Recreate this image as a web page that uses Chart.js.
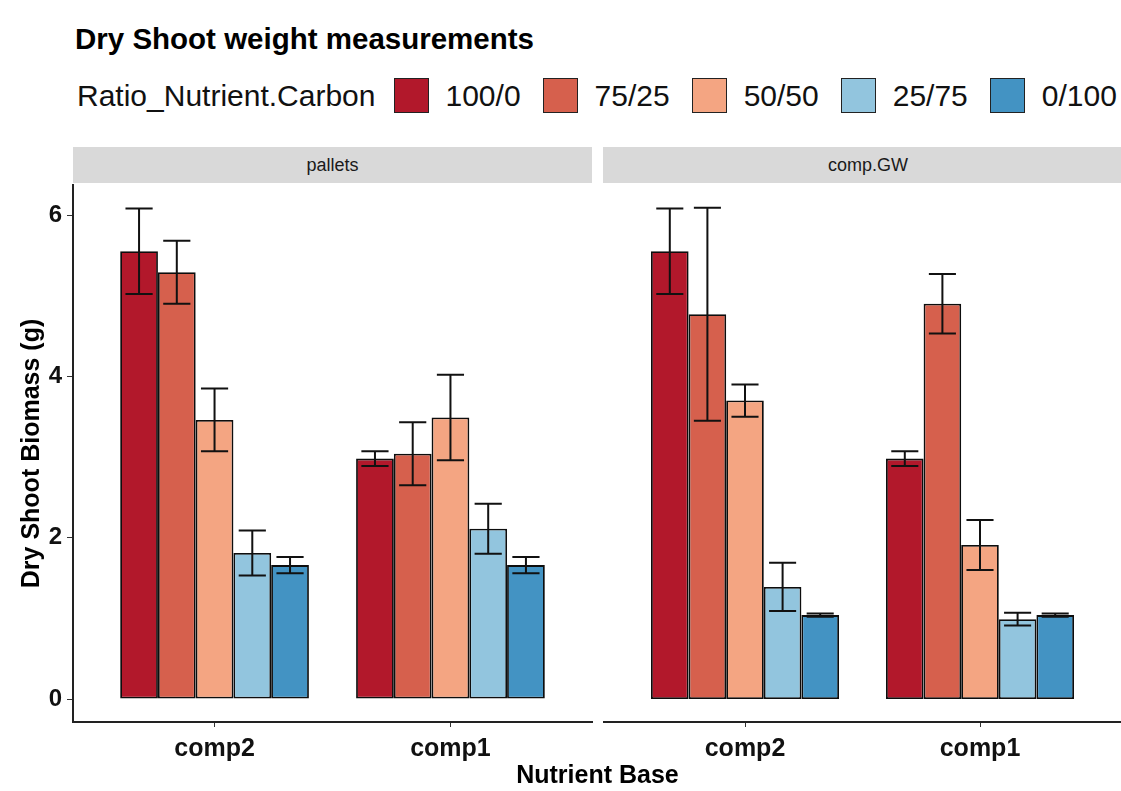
<!DOCTYPE html>
<html>
<head>
<meta charset="utf-8">
<script src="https://cdn.jsdelivr.net/npm/chart.js@4.4.1/dist/chart.umd.min.js"></script>
<style>
  body { margin: 0; width: 1121px; height: 791px; background: #fff; overflow: hidden; position: relative;
         font-family: 'Liberation Sans', Arial, sans-serif; color: #000; }
  #title { position: absolute; left: 75px; top: 24px; font-size: 29.5px; font-weight: bold; line-height: 1; white-space: nowrap; }
  #legend { position: absolute; left: 77px; top: 78px; height: 35px; display: flex; align-items: center;
            white-space: nowrap; font-size: 30px; line-height: 1; color: #111; }
  #legend .sw { width: 33px; height: 33px; border: 1px solid #222; margin-right: 17px; flex: none; }
  .strip { position: absolute; top: 147px; height: 36px; background: #d9d9d9; font-size: 18px; color: #1a1a1a;
           display: flex; align-items: center; justify-content: center; }
  #xtitle { position: absolute; left: 0; width: 1195px; top: 762px; text-align: center; font-size: 25px; font-weight: bold; line-height: 1; }
  canvas { position: absolute; top: 180px; }
</style>
</head>
<body>
<div id="title">Dry Shoot weight measurements</div>
<div id="legend"><span>Ratio_Nutrient.Carbon</span></div>
<div class="strip" style="left:73px; width:519px;">pallets</div>
<div class="strip" style="left:603px; width:530px;">comp.GW</div>
<canvas id="left" width="598" height="611" style="left:0px;"></canvas>
<canvas id="right" width="523" height="611" style="left:598px;"></canvas>
<div id="xtitle">Nutrient Base</div>

<script>
const categories = ['comp2', 'comp1'];
const ratios = ['100/0', '75/25', '50/50', '25/75', '0/100'];
const colors = ['#B2182B', '#D6604D', '#F4A582', '#92C5DE', '#4393C3'];
const yTicks = [0, 2, 4, 6];

// mean per ratio: [comp2, comp1]
const palletsMean = [[5.55, 2.98], [5.29, 3.04], [3.46, 3.49], [1.81, 2.11], [1.66, 1.66]];
const palletsErr  = [[0.53, 0.09], [0.39, 0.39], [0.39, 0.53], [0.28, 0.31], [0.10, 0.10]];
const compGWMean  = [[5.55, 2.98], [4.77, 4.90], [3.70, 1.91], [1.39, 0.99], [1.04, 1.04]];
const compGWErr   = [[0.53, 0.09], [1.32, 0.37], [0.20, 0.31], [0.30, 0.08], [0.02, 0.02]];

Chart.defaults.font.family = "'Liberation Sans', Arial, sans-serif";
Chart.defaults.color = '#111';

// legend swatches
const legend = document.getElementById('legend');
ratios.forEach((r, i) => {
    const sw = document.createElement('span');
    sw.className = 'sw';
    sw.style.background = colors[i];
    sw.style.marginLeft = (i === 0 ? 18 : 22) + 'px';
    const lb = document.createElement('span');
    lb.textContent = r;
    legend.appendChild(sw);
    legend.appendChild(lb);
});

const errorBars = {
    id: 'errorBars',
    afterDatasetsDraw(chart) {
        const { ctx, scales: { y } } = chart;
        ctx.save();
        ctx.strokeStyle = '#111';
        ctx.lineWidth = 2;
        chart.data.datasets.forEach((ds, i) => {
            chart.getDatasetMeta(i).data.forEach((bar, j) => {
                const v = ds.data[j].y, e = ds.errors[j];
                const yTop = y.getPixelForValue(v + e);
                const yBot = y.getPixelForValue(v - e);
                const half = bar.width * 0.36;
                ctx.beginPath();
                ctx.moveTo(bar.x, yTop); ctx.lineTo(bar.x, yBot);
                ctx.moveTo(bar.x - half, yTop); ctx.lineTo(bar.x + half, yTop);
                ctx.moveTo(bar.x - half, yBot); ctx.lineTo(bar.x + half, yBot);
                ctx.stroke();
            });
        });
        ctx.restore();
    }
};

function makePanel(id, means, errs, showY, padding) {
    const datasets = ratios.map((r, i) => ({
        label: r,
        data: categories.map((c, j) => ({ x: j + 1, y: means[i][j] })),
        errors: errs[i],
        backgroundColor: colors[i],
        borderColor: '#0d0d0d',
        borderWidth: 1.8,
        borderSkipped: false,
        categoryPercentage: 0.8,
        barPercentage: 1
    }));

    return new Chart(document.getElementById(id), {
        type: 'bar',
        data: { datasets },
        plugins: [errorBars],
        options: {
            responsive: false,
            animation: false,
            devicePixelRatio: 1,
            layout: { padding },
            plugins: { legend: { display: false }, tooltip: { enabled: false } },
            scales: {
                x: {
                    type: 'linear',
                    min: 0.4, max: 2.6,
                    offset: false,
                    afterBuildTicks: s => { s.ticks = categories.map((c, j) => ({ value: j + 1 })); },
                    afterFit: s => { s.height = 69; s.paddingLeft = 0; s.paddingRight = 0; },
                    ticks: {
                        callback: v => categories[v - 1],
                        font: { size: 25, weight: 'bold' },
                        color: '#111',
                        padding: 7,
                        maxRotation: 0
                    },
                    grid: { display: true, drawOnChartArea: false, drawTicks: true, tickLength: 5, tickColor: '#333', offset: false },
                    border: { display: true, color: '#222', width: 2 }
                },
                y: {
                    display: showY,
                    min: -0.285, max: 6.372,
                    afterBuildTicks: s => { s.ticks = yTicks.map(v => ({ value: v })); },
                    afterFit: s => {
                        s.width = showY ? 73 : 0;
                        s.paddingTop = 0; s.paddingBottom = 0;
                    },
                    ticks: { font: { size: 24, weight: 'bold' }, color: '#111', padding: 5 },
                    grid: { display: true, drawOnChartArea: false, drawTicks: true, tickLength: 6, tickColor: '#333' },
                    border: { display: true, color: '#222', width: 2 },
                    title: {
                        display: true,
                        text: 'Dry Shoot Biomass (g)',
                        font: { size: 25, weight: 'bold' },
                        color: '#000',
                        padding: { top: 17, bottom: 0 }
                    }
                }
            }
        }
    });
}

makePanel('left', palletsMean, palletsErr, true, { top: 5, right: 6, left: 0, bottom: 0 });
makePanel('right', compGWMean, compGWErr, false, { top: 5, right: 0, left: 6, bottom: 0 });
</script>
</body>
</html>
